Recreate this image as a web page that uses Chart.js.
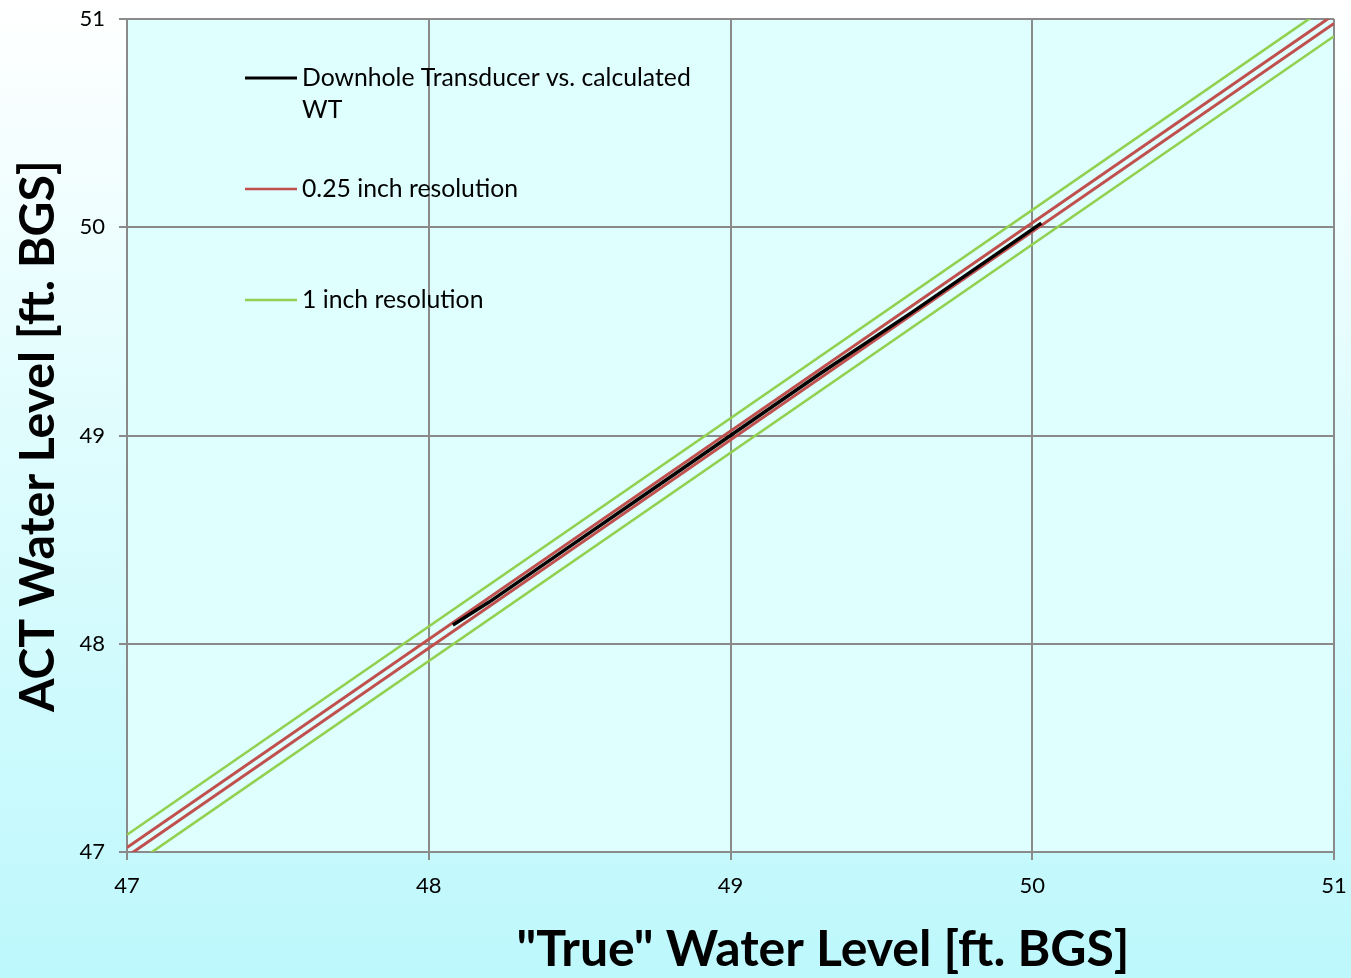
<!DOCTYPE html>
<html>
<head>
<meta charset="utf-8">
<script src="https://cdn.jsdelivr.net/npm/chart.js@4.4.1/dist/chart.umd.min.js"></script>
<style>
html,body{margin:0;padding:0;}
body{width:1351px;height:978px;background:linear-gradient(to bottom,#ffffff 0%,#e6fdfe 35%,#bdf8fc 100%);overflow:hidden;}
#wrap{position:absolute;left:0;top:0;width:1351px;height:978px;}
</style>
</head>
<body>
<div id="wrap"><canvas id="c" width="1351" height="978"></canvas></div>
<script>
// ---- data ----
const xTicks = [47, 48, 49, 50, 51];
const yTicks = [47, 48, 49, 50, 51];
const seriesNames = ["Downhole Transducer vs. calculated WT", "0.25 inch resolution", "1 inch resolution"];
const xTitle = '"True" Water Level [ft. BGS]';
const yTitle = 'ACT Water Level [ft. BGS]';

// Downhole transducer vs calculated WT
const transducerX = [48.08, 48.2, 48.35, 48.5, 48.7, 49.0, 49.3, 49.6, 49.85, 50.03];
const transducerY = [48.09, 48.2, 48.35, 48.5, 48.7, 49.0, 49.3, 49.59, 49.84, 50.02];
// resolution bands (line endpoints)
const bandX = [47, 51];
const quarterUpperY = [47.021, 51.021];
const quarterLowerY = [46.979, 50.979];
const inchUpperY = [47.083, 51.083];
const inchLowerY = [46.917, 50.917];

function pts(xs, ys){ return xs.map((x,i)=>({x:x, y:ys[i]})); }

const RED = '#c0504d', GREEN = '#92d050', BLACK = '#000000';
const FONT = 'Lato, "Liberation Sans", sans-serif';

const plotBg = {
  id:'plotBg',
  beforeDraw(chart){
    const {ctx, chartArea:a} = chart;
    ctx.save();
    ctx.fillStyle = '#dffefe';
    ctx.fillRect(a.left, a.top, a.right-a.left, a.bottom-a.top);
    ctx.restore();
  }
};

function fitFont(ctx, text, weight, targetW){
  ctx.font = weight + ' 40px ' + FONT;
  const w = ctx.measureText(text).width;
  return 40 * targetW / w;
}

const overlay = {
  id:'overlay',
  afterDraw(chart){
    const ctx = chart.ctx;
    ctx.save();
    ctx.fillStyle = '#000';
    let fs = fitFont(ctx, xTitle, 'bold', 613);
    ctx.font = 'bold ' + fs + 'px ' + FONT;
    ctx.textAlign = 'center'; ctx.textBaseline = 'middle';
    ctx.fillText(xTitle, 823, 950);
    fs = fitFont(ctx, yTitle, 'bold', 552);
    ctx.font = 'bold ' + fs + 'px ' + FONT;
    ctx.translate(38, 436);
    ctx.rotate(-Math.PI/2);
    ctx.fillText(yTitle, 0, 0);
    ctx.restore();

    // legend
    ctx.save();
    const lfs = fitFont(ctx, 'Downhole Transducer vs. calculated', 'normal', 389);
    ctx.font = lfs + 'px ' + FONT;
    ctx.textAlign = 'left'; ctx.textBaseline = 'middle';
    const items = [
      {lines:['Downhole Transducer vs. calculated','WT'], color:BLACK, w:3, y:78},
      {lines:[seriesNames[1]], color:RED, w:2.5, y:189},
      {lines:[seriesNames[2]], color:GREEN, w:2.5, y:300}
    ];
    items.forEach(it=>{
      ctx.strokeStyle = it.color; ctx.lineWidth = it.w;
      ctx.beginPath(); ctx.moveTo(245, it.y); ctx.lineTo(297, it.y); ctx.stroke();
      ctx.fillStyle = '#000';
      it.lines.forEach((ln,i)=> ctx.fillText(ln, 302, it.y + i*32));
    });
    ctx.restore();
  }
};

const ds = (label, data, color, width, order) => ({
  label, data, borderColor:color, backgroundColor:color, borderWidth:width,
  showLine:true, pointRadius:0, pointHoverRadius:0, tension:0, clip:0, order
});

new Chart(document.getElementById('c'), {
  type:'scatter',
  data:{
    datasets:[
      ds(seriesNames[0], pts(transducerX, transducerY), BLACK, 3.5, 0),
      ds(seriesNames[1], pts(bandX, quarterUpperY), RED, 3, 1),
      ds(seriesNames[1]+' low', pts(bandX, quarterLowerY), RED, 3, 1),
      ds(seriesNames[2], pts(bandX, inchUpperY), GREEN, 2.6, 2),
      ds(seriesNames[2]+' low', pts(bandX, inchLowerY), GREEN, 2.6, 2)
    ]
  },
  options:{
    responsive:false, animation:false, devicePixelRatio:1,
    layout:{padding:{left:0, top:19, right:17, bottom:0}},
    plugins:{legend:{display:false}, tooltip:{enabled:false}, title:{display:false}},
    scales:{
      x:{
        type:'linear', min:47, max:51,
        afterBuildTicks(s){ s.ticks = xTicks.map(v=>({value:v})); },
        afterFit(s){ s.height = 126; s.paddingLeft = 0; s.paddingRight = 0; },
        grid:{color:'#8a8a8a', lineWidth:2, tickLength:8, drawTicks:true},
        border:{color:'#8a8a8a', width:2},
        ticks:{color:'#000', font:{family:FONT, size:22}, padding:13, maxRotation:0}
      },
      y:{
        type:'linear', min:47, max:51,
        afterBuildTicks(s){ s.ticks = yTicks.map(v=>({value:v})); },
        afterFit(s){ s.width = 127; s.paddingTop = 0; s.paddingBottom = 0; },
        grid:{color:'#8a8a8a', lineWidth:2, tickLength:8, drawTicks:true},
        border:{color:'#8a8a8a', width:2},
        ticks:{color:'#000', font:{family:FONT, size:22}, padding:14}
      }
    }
  },
  plugins:[plotBg, overlay]
});
</script>
</body>
</html>
